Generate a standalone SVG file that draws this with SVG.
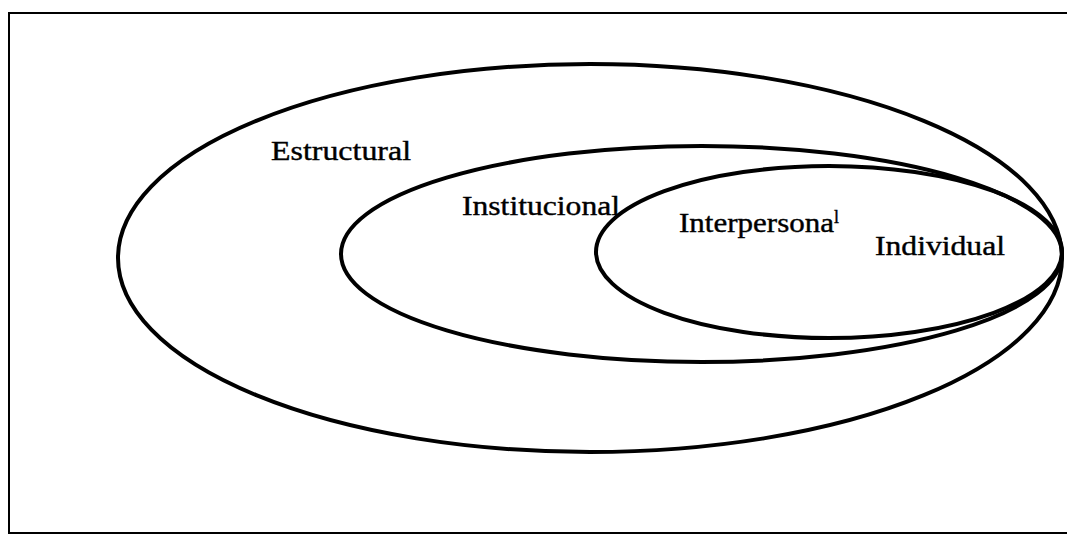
<svg xmlns="http://www.w3.org/2000/svg" width="1067" height="534" viewBox="0 0 1067 534">
<style>
.frame{fill:none;stroke:#000;stroke-width:2}
.ring{fill:none;stroke:#000;stroke-width:4}
.lbl{font-family:"Liberation Serif","Times New Roman",serif;font-size:28px;fill:#000;stroke:#000;stroke-width:0.4}
</style>
<rect width="1067" height="534" fill="#fff"/>
<rect class="frame" x="9" y="13" width="1080" height="520"/>
<g id="estructural">
<ellipse class="ring" cx="590" cy="258" rx="472" ry="194"/>
<text class="lbl" x="271" y="160" textLength="140" lengthAdjust="spacingAndGlyphs">Estructural</text>
</g>
<g id="institucional">
<ellipse class="ring" cx="701.5" cy="254" rx="360.5" ry="108"/>
<text class="lbl" x="462" y="215" textLength="158" lengthAdjust="spacingAndGlyphs">Institucional</text>
</g>
<g id="interpersonal">
<ellipse class="ring" cx="829" cy="252" rx="233" ry="86"/>
<text class="lbl" x="679" y="232"><tspan textLength="155" lengthAdjust="spacingAndGlyphs">Interpersona</tspan><tspan font-size="18" dy="-9">l</tspan></text>
</g>
<g id="individual">
<text class="lbl" x="875" y="255" textLength="130" lengthAdjust="spacingAndGlyphs">Individual</text>
</g>
<g id="connectors"/>
</svg>
